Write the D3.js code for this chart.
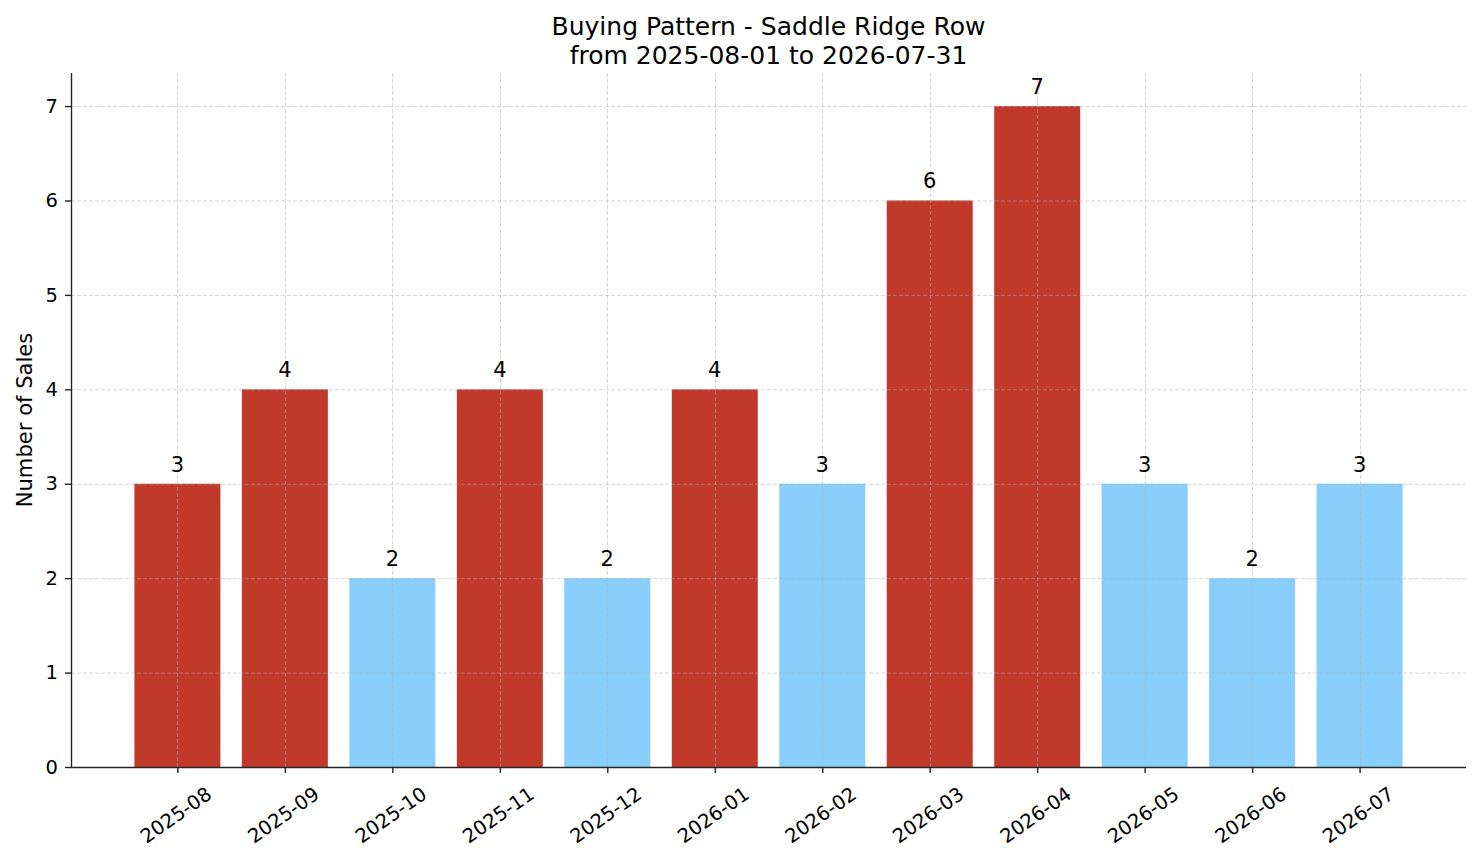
<!DOCTYPE html>
<html>
<head>
<meta charset="utf-8">
<script src="https://cdn.jsdelivr.net/npm/d3@7"></script>
<style>
  body { margin: 0; background: #fff; }
  text { font-family: "DejaVu Sans", sans-serif; fill: #000; }
</style>
</head>
<body>
<script>
// chart data
const months = ["2025-08", "2025-09", "2025-10", "2025-11", "2025-12", "2026-01",
                "2026-02", "2026-03", "2026-04", "2026-05", "2026-06", "2026-07"];
const sales  = [3, 4, 2, 4, 2, 4, 3, 6, 7, 3, 2, 3];
// which months are drawn in red in the original
const highlighted = [true, true, false, true, false, true, false, true, true, false, false, false];
const yTicks = [0, 1, 2, 3, 4, 5, 6, 7];
const titleLines = ["Buying Pattern - Saddle Ridge Row", "from 2025-08-01 to 2026-07-31"];

const W = 1481, H = 863;
const plot = { left: 71, right: 1466, top: 73, bottom: 767 };

const svg = d3.select("body").append("svg")
  .attr("width", W)
  .attr("height", H);

// month index -> pixel, same padding as matplotlib's auto margins
const x = d3.scaleLinear()
  .domain([-0.99, months.length - 1 + 0.99])
  .range([plot.left, plot.right]);

const y = d3.scaleLinear()
  .domain([0, 7.35])
  .range([plot.bottom, plot.top]);

const barW = x(0.8) - x(0);

// bars
svg.selectAll("rect.bar")
  .data(sales)
  .enter()
  .append("rect")
    .attr("class", "bar")
    .attr("x", (d, i) => x(i) - barW / 2)
    .attr("y", d => y(d))
    .attr("width", barW)
    .attr("height", d => y(0) - y(d))
    .attr("fill", (d, i) => highlighted[i] ? "#c0392b" : "#87cefa");

// grid (drawn over the bars)
const grid = svg.append("g")
  .attr("stroke", "#b0b0b0")
  .attr("stroke-opacity", 0.5)
  .attr("stroke-width", 1)
  .attr("stroke-dasharray", "4,2");

grid.selectAll("line.h")
  .data(yTicks)
  .enter()
  .append("line")
    .attr("x1", plot.left)
    .attr("x2", plot.right)
    .attr("y1", d => y(d) + 0.5)
    .attr("y2", d => y(d) + 0.5);

grid.selectAll("line.v")
  .data(months)
  .enter()
  .append("line")
    .attr("x1", (d, i) => Math.round(x(i)) + 0.5)
    .attr("x2", (d, i) => Math.round(x(i)) + 0.5)
    .attr("y1", plot.top)
    .attr("y2", plot.bottom);

// value labels
svg.selectAll("text.val")
  .data(sales)
  .enter()
  .append("text")
    .attr("class", "val")
    .attr("x", (d, i) => x(i))
    .attr("y", d => y(d) - 12)
    .attr("text-anchor", "middle")
    .attr("font-size", "21px")
    .text(d => d);

// y axis
const yAxis = d3.axisLeft(y)
  .tickValues(yTicks)
  .tickSize(6)
  .tickPadding(7)
  .tickFormat(d3.format("d"));

svg.append("g")
  .attr("transform", `translate(${plot.left},0)`)
  .call(yAxis)
  .call(g => g.select(".domain").attr("d", `M0.5,${plot.top}V${plot.bottom}`))
  .call(g => g.selectAll("path, line").attr("stroke", "#262626").attr("stroke-width", 1.4))
  .call(g => g.selectAll("text")
    .attr("font-family", "DejaVu Sans")
    .attr("font-size", "19.5px")
    .attr("fill", "#000"));

// x axis
const xAxis = d3.axisBottom(x)
  .tickValues(d3.range(months.length))
  .tickSize(6)
  .tickFormat(i => months[i]);

svg.append("g")
  .attr("transform", `translate(0,${plot.bottom})`)
  .call(xAxis)
  .call(g => g.select(".domain").attr("d", `M${plot.left},0.5H${plot.right}`))
  .call(g => g.selectAll("path, line").attr("stroke", "#262626").attr("stroke-width", 1.4))
  .call(g => g.selectAll("text")
    .attr("font-family", "DejaVu Sans")
    .attr("font-size", "19.5px")
    .attr("fill", "#000")
    .attr("y", 0)
    .attr("dy", "0.35em")
    .attr("text-anchor", "middle")
    .attr("transform", "translate(-2,48) rotate(-35)"));

// y label
svg.append("text")
  .attr("transform", `translate(32,${(plot.top + plot.bottom) / 2}) rotate(-90)`)
  .attr("text-anchor", "middle")
  .attr("font-size", "21.1px")
  .text("Number of Sales");

// title
svg.append("g")
  .selectAll("text")
  .data(titleLines)
  .enter()
  .append("text")
    .attr("x", (plot.left + plot.right) / 2)
    .attr("y", (d, i) => 35 + i * 29)
    .attr("text-anchor", "middle")
    .attr("font-size", "25px")
    .text(d => d);
</script>
</body>
</html>
